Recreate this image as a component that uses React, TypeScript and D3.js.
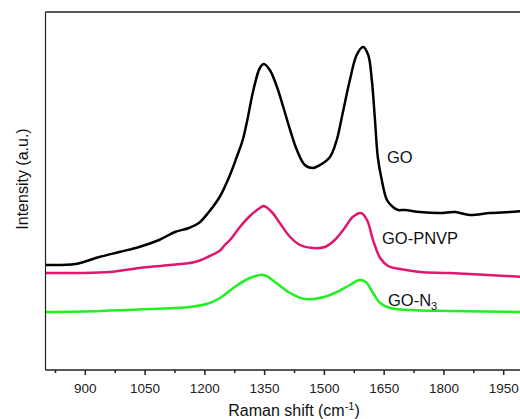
import * as d3 from 'd3';
import React from 'react';

// wavenumber (cm-1) / intensity (a.u.)
const goX = [800, 875, 935, 985, 1035, 1085, 1125, 1160, 1185, 1210, 1237, 1263, 1280, 1295, 1305, 1323, 1338, 1348, 1363, 1381, 1399, 1414, 1431, 1451, 1471, 1489, 1514, 1531, 1546, 1564, 1581, 1597, 1610, 1619, 1627, 1634, 1644, 1657, 1672, 1685, 1702, 1740, 1790, 1828, 1865, 1915, 1965, 2000];
const goY = [1050, 1060, 1130, 1180, 1230, 1300, 1380, 1420, 1470, 1580, 1730, 1950, 2130, 2300, 2470, 2820, 3020, 3060, 3000, 2830, 2600, 2400, 2200, 2050, 2020, 2050, 2130, 2300, 2570, 2900, 3150, 3230, 3150, 2900, 2500, 2130, 1900, 1700, 1630, 1600, 1600, 1580, 1570, 1580, 1550, 1570, 1580, 1590];

const pnvpX = [800, 885, 960, 1036, 1112, 1175, 1212, 1238, 1250, 1263, 1288, 1313, 1338, 1348, 1368, 1388, 1414, 1439, 1471, 1501, 1526, 1551, 1571, 1592, 1607, 1622, 1640, 1660, 1690, 1740, 1815, 2000];
const pnvpY = [970, 970, 980, 1020, 1050, 1080, 1140, 1195, 1250, 1300, 1430, 1540, 1620, 1640, 1580, 1470, 1330, 1250, 1220, 1230, 1300, 1420, 1530, 1570, 1500, 1300, 1120, 1040, 1010, 980, 970, 930];

const n3X = [800, 938, 1063, 1162, 1212, 1238, 1275, 1313, 1348, 1376, 1414, 1451, 1489, 1526, 1564, 1589, 1604, 1622, 1640, 1665, 1715, 1815, 2000];
const n3Y = [580, 590, 610, 630, 670, 720, 830, 920, 950, 880, 770, 710, 720, 770, 850, 900, 880, 770, 670, 620, 600, 590, 580];

const xTicks = [900, 1050, 1200, 1350, 1500, 1650, 1800, 1950];
const xMinor = [825, 975, 1125, 1275, 1425, 1575, 1725, 1875];

const W = 520;
const H = 419;
const left = 45.5;
const right = 523.6;
const top = 12;
const bottom = 370;

const font = 'Arial, "Liberation Sans", sans-serif';

export default function App() {
  const x = d3.scaleLinear().domain([800, 2000]).range([left, right]);
  const y = d3.scaleLinear().domain([0, 3580]).range([bottom, top]);

  const line = d3
    .line<[number, number]>()
    .x(d => x(d[0]))
    .y(d => y(d[1]))
    .curve(d3.curveCatmullRom.alpha(0.5));

  const series = [
    { xs: goX, ys: goY, color: '#000000' },
    { xs: pnvpX, ys: pnvpY, color: '#e0166f' },
    { xs: n3X, ys: n3Y, color: '#1ff01f' },
  ];

  return (
    <div style={{ position: 'absolute', left: 0, top: 0 }}>
      <svg width={W} height={H} style={{ display: 'block', background: '#fff' }}>
        <defs>
          <clipPath id="plot">
            <rect x={left} y={top} width={right - left} height={bottom - top} />
          </clipPath>
        </defs>

        <g clipPath="url(#plot)">
          {series.map((s, i) => (
            <path
              key={i}
              d={line(s.xs.map((v, j) => [v, s.ys[j]] as [number, number])) || ''}
              fill="none"
              stroke={s.color}
              strokeWidth={2.5}
              strokeLinejoin="round"
            />
          ))}
        </g>

        {/* frame */}
        <line x1={left} x2={right} y1={top} y2={top} stroke="#222" strokeWidth={1.5} />
        <line x1={left} x2={left} y1={top} y2={bottom} stroke="#222" strokeWidth={1.2} />
        <line x1={left} x2={right} y1={bottom} y2={bottom} stroke="#222" strokeWidth={1.5} />

        {xTicks.map(t => (
          <g key={t}>
            <line x1={x(t)} x2={x(t)} y1={bottom} y2={bottom + 5} stroke="#222" strokeWidth={1.5} />
            <text x={x(t)} y={bottom + 23} textAnchor="middle" fontFamily={font} fontSize={13.5} fill="#222">
              {t}
            </text>
          </g>
        ))}
        {xMinor.map(t => (
          <line key={t} x1={x(t)} x2={x(t)} y1={bottom} y2={bottom + 3} stroke="#222" strokeWidth={1.5} />
        ))}

        <text x={294} y={416} textAnchor="middle" fontFamily={font} fontSize={16} fill="#111">
          Raman shift (cm
          <tspan fontSize={11} dy={-6}>-1</tspan>
          <tspan dy={6}>)</tspan>
        </text>

        <text
          transform="translate(28,179) rotate(-90)"
          textAnchor="middle"
          fontFamily={font}
          fontSize={16}
          fill="#111"
        >
          Intensity (a.u.)
        </text>

        <text x={387} y={163} fontFamily={font} fontSize={16.5} fill="#111">GO</text>
        <text x={382} y={244} fontFamily={font} fontSize={16.5} fill="#111">GO-PNVP</text>
        <text x={388} y={306} fontFamily={font} fontSize={16.5} fill="#111">
          GO-N
          <tspan fontSize={11} dy={4}>3</tspan>
        </text>
      </svg>
    </div>
  );
}
